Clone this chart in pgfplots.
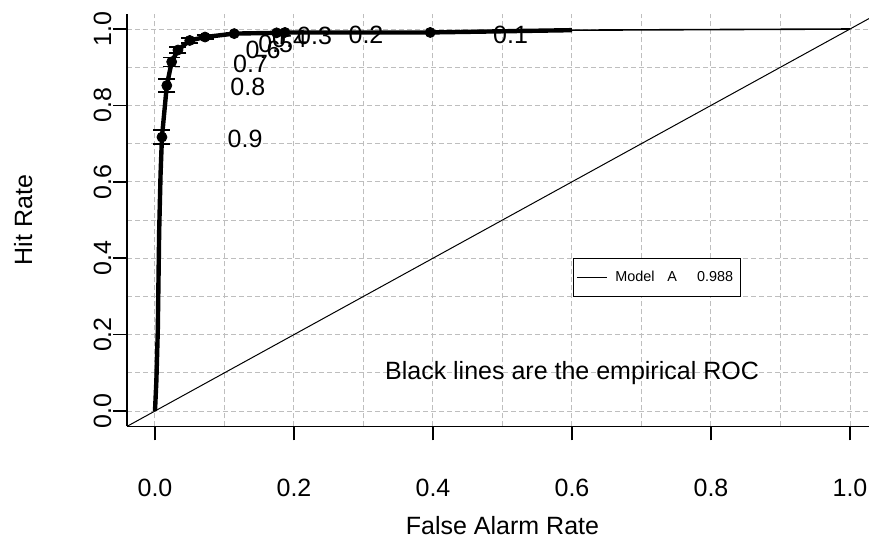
\documentclass[border=0pt]{standalone}
\usepackage{pgfplots}
\pgfplotsset{compat=1.18}
\usepackage{fontspec}
\setmainfont{Liberation Sans}
\definecolor{gridgray}{RGB}{190,190,190}
\newcommand{\bigf}{\fontsize{12.5}{15}\selectfont}
\newcommand{\smallf}{\fontsize{7.2}{8.5}\selectfont}

% ROC points (false alarm rate, hit rate)
\pgfplotstableread{
x      y
0.000  0.000
0.002  0.080
0.004  0.210
0.006  0.470
0.008  0.620
0.010  0.717
0.017  0.852
0.024  0.914
0.033  0.945
0.050  0.970
0.072  0.979
0.114  0.988
0.175  0.990
0.187  0.991
0.396  0.991
0.600  0.997
}\roccurve

\pgfplotstableread{
x      y      e
0.010  0.717  0.018
0.017  0.852  0.017
0.024  0.914  0.012
0.033  0.945  0.008
0.050  0.970  0.006
0.072  0.979  0.005
0.114  0.988  0.003
0.175  0.990  0.003
0.187  0.991  0.003
0.396  0.991  0.003
}\thresh

\pgfplotstableread{
x      y      lab
0.104  0.713  0.9
0.108  0.848  0.8
0.112  0.910  0.7
0.130  0.945  0.6
0.148  0.962  0.5
0.168  0.975  0.4
0.204  0.982  0.3
0.278  0.984  0.2
0.486  0.984  0.1
}\labels

\begin{document}
\begin{tikzpicture}
\begin{axis}[
  scale only axis, width=375.3pt, height=206.28pt,
  xmin=-0.04, xmax=1.04, ymin=-0.04, ymax=1.04,
  axis x line*=bottom, axis y line*=left,
  axis line style={-, line width=0.75pt},
  xtick={0,0.2,...,1}, ytick={0,0.2,...,1},
  minor tick num=1, minor tick length=0pt,
  grid=both,
  grid style={gridgray, dash pattern=on 2.5pt off 1.5pt, line width=0.5pt},
  major grid style={gridgray, dash pattern=on 2.5pt off 1.5pt, line width=0.5pt},
  tick align=outside, major tick length=7pt,
  tick style={black, line width=0.75pt},
  /pgf/number format/.cd, fixed, fixed zerofill, precision=1, assume math mode=true,
  /pgfplots/.cd,
  tick label style={font=\bigf},
  xticklabel style={anchor=base},
  xticklabel shift=28pt,
  yticklabel style={rotate=90, anchor=base},
  yticklabel shift=1pt,
  xlabel={False Alarm Rate},
  ylabel={Hit Rate},
  xlabel style={at={(axis description cs:0.5,-0.263)}, anchor=base, font=\bigf},
  ylabel style={at={(axis description cs:-0.1268,0.5)}, anchor=base, font=\bigf},
  legend style={at={(axis cs:0.601,0.4)}, anchor=north west, draw=black,
    line width=0.6pt, font=\smallf, inner xsep=1.5pt, inner ysep=4pt,
    nodes={inner xsep=2pt, inner ysep=2pt}},
  legend cell align=left,
  legend image code/.code={\draw[#1] (0pt,0pt) -- (15pt,0pt);},
  clip=true,
]
\addlegendimage{black, line width=0.5pt}
\addlegendentry{\hspace{2pt}Model\hspace{6.5pt}A\hspace{10pt}0.988}

% diagonal reference
\addplot[black, line width=0.5pt, forget plot] coordinates {(-0.04,-0.04) (1.04,1.04)};

% empirical ROC
\addplot[black, line width=2.2pt, line join=round, forget plot] table[x=x, y=y] {\roccurve};
\addplot[black, line width=0.8pt, forget plot] coordinates {(0.600,0.997) (1.0,1.0)};

% threshold points with CI
\addplot[black, only marks, mark=*, mark size=2.5pt, forget plot,
  error bars/.cd, y dir=both, y explicit,
  error bar style={line width=0.75pt},
  error mark options={rotate=90, mark size=4.25pt, line width=0.75pt}]
  table[x=x, y=y, y error=e] {\thresh};

% threshold labels
\addplot[only marks, mark=none, forget plot,
  nodes near coords, point meta=explicit symbolic,
  nodes near coords style={anchor=west, inner sep=0pt, font=\bigf}]
  table[x=x, y=y, meta=lab] {\labels};

\node[font=\bigf] at (axis cs:0.6,0.1) {Black lines are the empirical ROC};
\end{axis}
\pgfresetboundingbox
\path[use as bounding box] (-63.6pt,-56.35pt) rectangle (370.9pt,213.15pt);
\end{tikzpicture}
\end{document}
